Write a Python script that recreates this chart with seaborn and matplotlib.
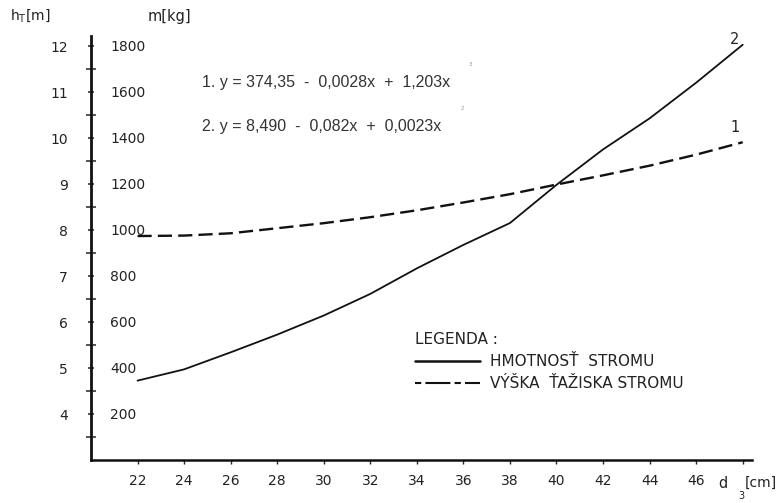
import matplotlib
matplotlib.use("Agg")
import matplotlib.pyplot as plt
import seaborn as sns
import pandas as pd

# ---- data ----
d3_cm = [22, 24, 26, 28, 30, 32, 34, 36, 38, 40, 42, 44, 46, 48]
mass_kg = [345, 394, 468, 545, 628, 722, 833, 935, 1030, 1196, 1350, 1485, 1640, 1805]
height_m = [7.87, 7.88, 7.93, 8.04, 8.15, 8.28, 8.43, 8.60, 8.78, 8.99, 9.19, 9.40, 9.64, 9.91]

x_ticks = [22, 24, 26, 28, 30, 32, 34, 36, 38, 40, 42, 44, 46]
ht_ticks = [4, 5, 6, 7, 8, 9, 10, 11, 12]
mass_ticks = [200, 400, 600, 800, 1000, 1200, 1400, 1600, 1800]

eq1 = "1. y = 374,35  -  0,0028x  +  1,203x"
eq2 = "2. y = 8,490  -  0,082x  +  0,0023x"
legend_title = "LEGENDA :"
legend_mass = "HMOTNOSŤ  STROMU"
legend_height = "VÝŠKA  ŤAŽISKA STROMU"

df = pd.DataFrame({"d3": d3_cm, "mass": mass_kg, "height": height_m})

sns.set_style("white")
plt.rcParams["font.family"] = ["DejaVu Sans"]

W, H = 782, 503
fig = plt.figure(figsize=(W / 100, H / 100), dpi=100)
L, R, B, T = 91, 752, 460, 36
ax = fig.add_axes([L / W, 1 - B / H, (R - L) / W, (B - T) / H])

# height of centre of gravity (dashed) on h_T scale
sns.lineplot(data=df, x="d3", y="height", ax=ax, color="#111111", lw=1.7,
             linestyle=(0, (6, 2.6)), legend=False)
ax.set_xlim(20.0, 48.4)
ax.set_ylim(3.0, 12.22)

# mass (solid) on kg scale
ax2 = ax.twinx()
sns.lineplot(data=df, x="d3", y="mass", ax=ax2, color="#111111", lw=1.3, legend=False)
ax2.set_ylim(0, 1843)

for a in (ax, ax2):
    a.set_xlabel("")
    a.set_ylabel("")
    a.set_facecolor("none")
    for s in a.spines.values():
        s.set_visible(False)
ax.spines["left"].set_visible(True)
ax.spines["bottom"].set_visible(True)
ax.spines["left"].set_linewidth(2.0)
ax.spines["bottom"].set_linewidth(1.8)
ax.spines["left"].set_color("#111111")
ax.spines["bottom"].set_color("#111111")

tick_font = dict(fontsize=10, color="#222222")
ax.set_xticks(x_ticks + [48])
ax.set_xticklabels([str(v) for v in x_ticks] + [""], **tick_font)
ax.tick_params(axis="x", direction="out", length=3, width=1.0, pad=7, bottom=True)

ax.set_yticks(ht_ticks)
ax.set_yticklabels([str(v) for v in ht_ticks], **tick_font)
ax.set_yticks([v + 0.5 for v in [3] + ht_ticks[:-1]], minor=True)
ax.tick_params(axis="y", which="major", direction="inout", length=5, width=1.1, pad=14, left=True)
ax.tick_params(axis="y", which="minor", direction="inout", length=7, width=1.1, left=True)

ax2.set_yticks(mass_ticks)
ax2.set_yticklabels([str(v) for v in mass_ticks], **tick_font)
ax2.yaxis.set_ticks_position("left")
ax2.tick_params(axis="y", length=0, pad=-14, labelleft=True, labelright=False)
for t in ax2.get_yticklabels():
    t.set_horizontalalignment("left")

# axis titles
fig.text(10 / W, 1 - 16 / H, r"$\mathregular{h_T}$[m]", fontsize=10, va="center", ha="left", color="#222222")
fig.text(148 / W, 1 - 16 / H, "m[kg]", fontsize=10.5, va="center", ha="left", color="#222222")
fig.text(723 / W, 1 - 483 / H, "d", fontsize=10.5, va="center", ha="center", color="#222222")
fig.text(741 / W, 1 - 496 / H, "3", fontsize=7, va="center", ha="center", color="#222222")
fig.text(745 / W, 1 - 483 / H, "[cm]", fontsize=10, va="center", ha="left", color="#222222")

# equations
eq_font = dict(fontsize=11.5, family=["Liberation Sans", "DejaVu Sans"], color="#333333", va="center", ha="left")
fig.text(202 / W, 1 - 82 / H, eq1, **eq_font)
fig.text(202 / W, 1 - 127 / H, eq2, **eq_font)
fig.text(470 / W, 1 - 65 / H, "3", fontsize=4, color="#999999", ha="center", va="center")
fig.text(462 / W, 1 - 109 / H, "2", fontsize=4, color="#999999", ha="center", va="center")

# curve labels
fig.text(735 / W, 1 - 40 / H, "2", fontsize=10.5, ha="center", va="center", color="#222222")
fig.text(735 / W, 1 - 128 / H, "1", fontsize=10.5, ha="center", va="center", color="#222222")

# legend
leg_font = dict(fontsize=11, color="#222222", va="center", ha="left")
fig.text(415 / W, 1 - 340 / H, legend_title, **leg_font)
fig.add_artist(plt.Line2D([415 / W, 480 / W], [1 - 361 / H, 1 - 361 / H], color="#111111", lw=1.8))
fig.add_artist(plt.Line2D([415 / W, 480 / W], [1 - 383 / H, 1 - 383 / H], color="#111111", lw=1.5,
                          linestyle=(0, (3, 2, 12, 2))))
fig.text(490 / W, 1 - 361 / H, legend_mass, **leg_font)
fig.text(490 / W, 1 - 383 / H, legend_height, **leg_font)

fig.savefig("out.png", dpi=100, facecolor="white")
